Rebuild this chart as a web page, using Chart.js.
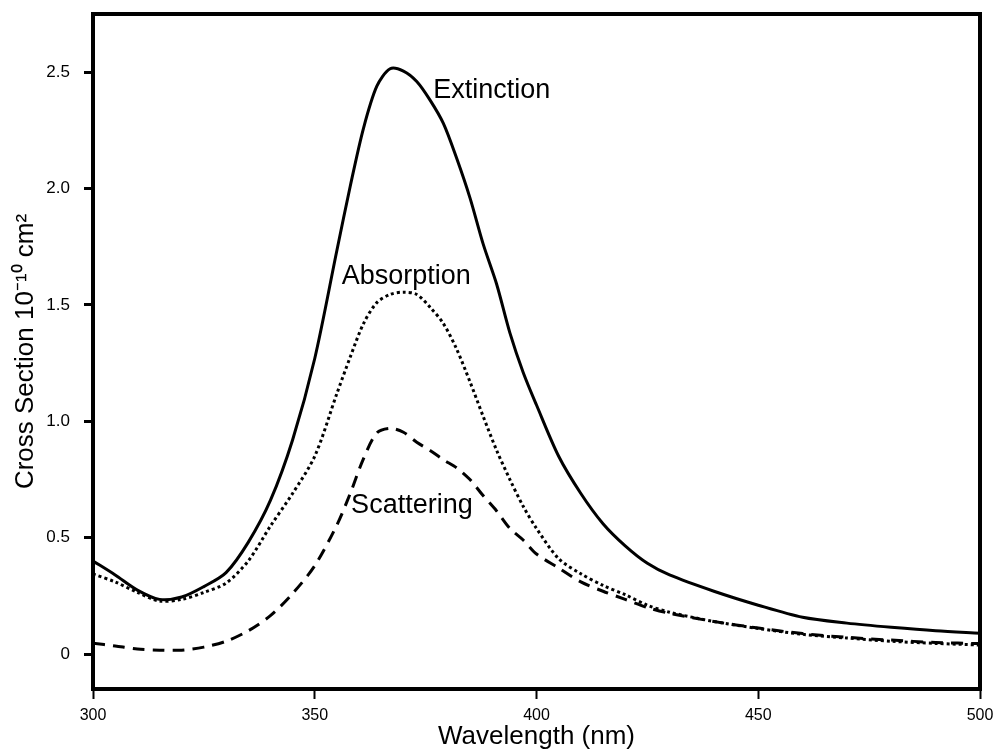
<!DOCTYPE html>
<html>
<head>
<meta charset="utf-8">
<script src="https://cdn.jsdelivr.net/npm/chart.js@4/dist/chart.umd.min.js"></script>
<style>
    html, body { margin: 0; padding: 0; background: #fff; }
    #wrap { width: 1000px; height: 752px; }
</style>
</head>
<body>
<div id="wrap"><canvas id="spectrum" width="1000" height="752"></canvas></div>
<script>
const wavelengths = [300, 305, 310, 315, 320, 325, 330, 335, 340, 345, 350, 355, 358, 361, 364, 367, 370, 373, 376, 379, 382, 385, 388, 391, 394, 397, 400, 405, 410, 415, 420, 425, 430, 440, 450, 460, 470, 480, 490, 500];

const extinction = [0.40, 0.34, 0.275, 0.235, 0.245, 0.29, 0.35, 0.48, 0.66, 0.92, 1.27, 1.735, 2.01, 2.26, 2.44, 2.515, 2.505, 2.46, 2.38, 2.28, 2.13, 1.96, 1.76, 1.59, 1.38, 1.21, 1.07, 0.85, 0.69, 0.56, 0.465, 0.39, 0.34, 0.27, 0.21, 0.158, 0.133, 0.115, 0.10, 0.09];

const absorption = [0.344, 0.31, 0.265, 0.228, 0.235, 0.265, 0.305, 0.40, 0.55, 0.69, 0.85, 1.12, 1.276, 1.42, 1.51, 1.545, 1.555, 1.545, 1.49, 1.42, 1.31, 1.17, 1.02, 0.876, 0.75, 0.635, 0.54, 0.41, 0.345, 0.295, 0.255, 0.21, 0.18, 0.14, 0.11, 0.085, 0.069, 0.055, 0.046, 0.039];

const scattering = [0.047, 0.035, 0.022, 0.017, 0.017, 0.03, 0.055, 0.10, 0.165, 0.26, 0.38, 0.555, 0.69, 0.84, 0.95, 0.97, 0.953, 0.91, 0.875, 0.835, 0.80, 0.75, 0.68, 0.615, 0.54, 0.49, 0.43, 0.37, 0.31, 0.27, 0.235, 0.20, 0.175, 0.14, 0.112, 0.088, 0.072, 0.06, 0.05, 0.045];

const xTicks = [300, 350, 400, 450, 500];
const yTicks = [0, 0.5, 1.0, 1.5, 2.0, 2.5];

const curveLabels = [
    { text: 'Extinction', x: 376.7, y: 2.42 },
    { text: 'Absorption', x: 356.1, y: 1.62 },
    { text: 'Scattering', x: 358.2, y: 0.64 }
];

const fontFamily = '"Liberation Sans", Arial, Helvetica, sans-serif';

function toPoints(values) {
    return wavelengths.map((w, i) => ({ x: w, y: values[i] }));
}

// thick box round the plot area
const framePlugin = {
    id: 'frame',
    afterDatasetsDraw(chart) {
        const { ctx, chartArea: a } = chart;
        ctx.save();
        ctx.strokeStyle = '#000';
        ctx.lineWidth = 4;
        ctx.strokeRect(a.left, a.top, a.right - a.left, a.bottom - a.top);
        ctx.restore();
    }
};

const curveLabelPlugin = {
    id: 'curveLabels',
    afterDatasetsDraw(chart) {
        const ctx = chart.ctx;
        const xs = chart.scales.x;
        const ys = chart.scales.y;
        ctx.save();
        ctx.fillStyle = '#000';
        ctx.font = '27px ' + fontFamily;
        ctx.textAlign = 'left';
        ctx.textBaseline = 'middle';
        curveLabels.forEach(l => {
            ctx.fillText(l.text, xs.getPixelForValue(l.x), ys.getPixelForValue(l.y));
        });
        ctx.restore();
    }
};

const baseLine = {
    borderColor: '#000',
    borderWidth: 3,
    pointRadius: 0,
    fill: false,
    tension: 0.3
};

new Chart(document.getElementById('spectrum'), {
    type: 'line',
    data: {
        datasets: [
            Object.assign({ label: 'Extinction', data: toPoints(extinction) }, baseLine),
            Object.assign({ label: 'Absorption', data: toPoints(absorption), borderDash: [3, 3], borderCapStyle: 'butt' }, baseLine),
            Object.assign({ label: 'Scattering', data: toPoints(scattering), borderDash: [12, 8] }, baseLine)
        ]
    },
    options: {
        responsive: false,
        animation: false,
        layout: { padding: { top: 14, right: 20, left: 0, bottom: 0 } },
        plugins: {
            legend: { display: false },
            tooltip: { enabled: false }
        },
        scales: {
            x: {
                type: 'linear',
                min: 300,
                max: 500,
                afterBuildTicks: scale => { scale.ticks = xTicks.map(v => ({ value: v })); },
                afterFit: scale => {
                    scale.height = 63;
                    scale.paddingLeft = 0;
                    scale.paddingRight = 0;
                },
                border: { display: false },
                grid: { drawOnChartArea: false, drawTicks: true, tickLength: 10, tickWidth: 2, tickColor: '#000' },
                ticks: { color: '#000', padding: 7, maxRotation: 0, font: { family: fontFamily, size: 16 } },
                title: {
                    display: true,
                    text: 'Wavelength (nm)',
                    color: '#000',
                    padding: { top: 0, bottom: 0 },
                    font: { family: fontFamily, size: 26 }
                }
            },
            y: {
                type: 'linear',
                min: -0.15,
                max: 2.75,
                afterBuildTicks: scale => { scale.ticks = yTicks.map(v => ({ value: v })); },
                afterFit: scale => {
                    scale.width = 93;
                    scale.paddingTop = 0;
                    scale.paddingBottom = 0;
                },
                border: { display: false },
                grid: { drawOnChartArea: false, drawTicks: true, tickLength: 9, tickWidth: 3, tickColor: '#000' },
                ticks: {
                    color: '#000',
                    padding: 14,
                    font: { family: fontFamily, size: 17 },
                    callback: v => v === 0 ? '0' : v.toFixed(1)
                },
                title: {
                    display: true,
                    text: 'Cross Section 10⁻¹⁰ cm²',
                    color: '#000',
                    padding: { top: 10, bottom: 0 },
                    font: { family: fontFamily, size: 26 }
                }
            }
        }
    },
    plugins: [framePlugin, curveLabelPlugin]
});
</script>
</body>
</html>
